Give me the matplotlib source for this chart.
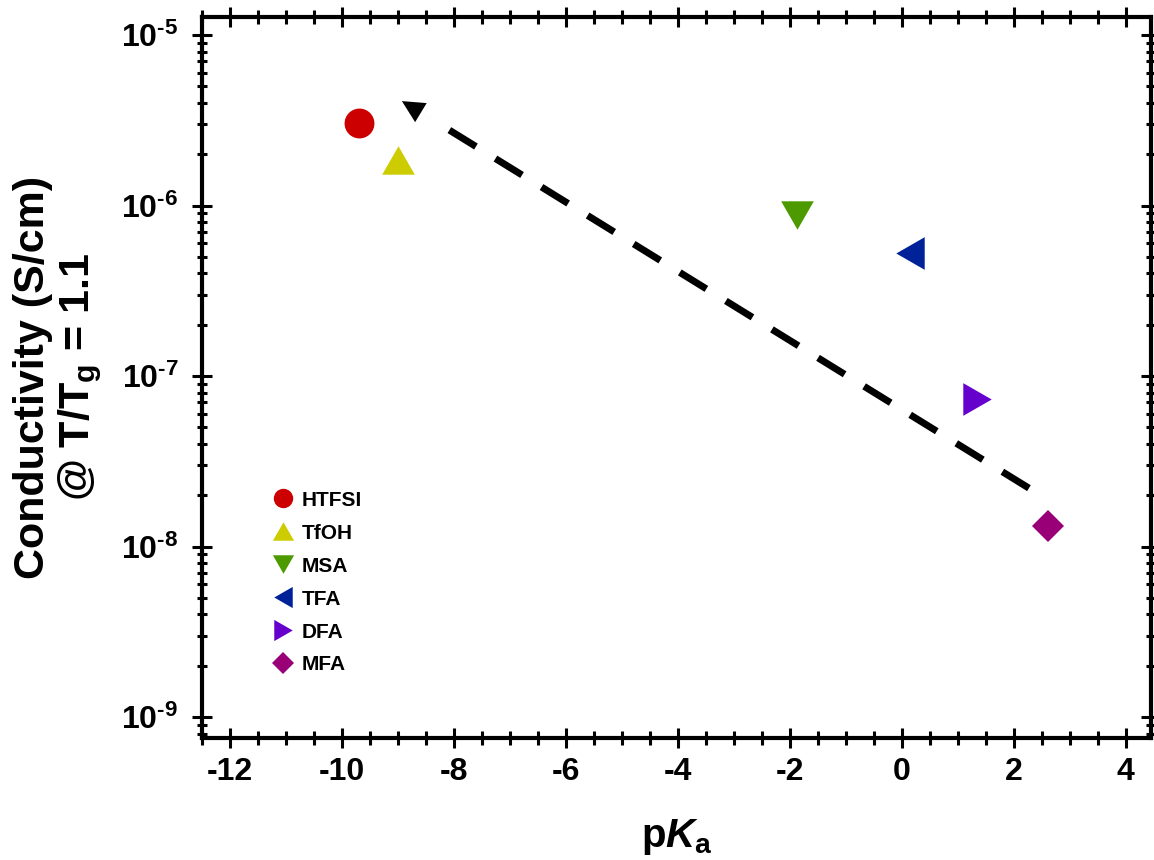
import matplotlib
matplotlib.use('Agg')
import matplotlib.pyplot as plt
from matplotlib.ticker import MultipleLocator, NullFormatter, LogLocator

plt.rcParams['font.family'] = ['Liberation Sans', 'DejaVu Sans']
plt.rcParams['font.weight'] = 'bold'
plt.rcParams['axes.unicode_minus'] = False
plt.rcParams['mathtext.fontset'] = 'custom'
plt.rcParams['mathtext.rm'] = 'Liberation Sans:bold'
plt.rcParams['mathtext.bf'] = 'Liberation Sans:bold'
plt.rcParams['mathtext.it'] = 'Liberation Sans:italic:bold'

# ---- data ----
acids = ['HTFSI', 'TfOH', 'MSA', 'TFA', 'DFA', 'MFA']
pka = [-9.69, -9.0, -1.88, 0.15, 1.34, 2.61]
conductivity = [3.03e-6, 1.86e-6, 8.8e-7, 5.28e-7, 7.3e-8, 1.32e-8]
colors = ['#CC0000', '#CCCC00', '#4C9900', '#002299', '#6600CC', '#990077']

# trend arrow: tail (near MFA) -> end of dashes -> arrow tip
arrow_x = [2.27, -8.43, -8.93]
arrow_y = [2.2e-8, 3.26e-6, 4.1e-6]

ytick_vals = [1e-9, 1e-8, 1e-7, 1e-6, 1e-5]
ytick_labels = [r'$\mathrm{10}^{\text{-9}}$', r'$\mathrm{10}^{\text{-8}}$',
                r'$\mathrm{10}^{\text{-7}}$', r'$\mathrm{10}^{\text{-6}}$',
                r'$\mathrm{10}^{\text{-5}}$']

# equilateral-ish triangle markers
TRI_UP = [(-1, -0.87), (1, -0.87), (0, 0.87)]
TRI_DOWN = [(-1, 0.87), (1, 0.87), (0, -0.87)]
TRI_LEFT = [(0.87, -1), (0.87, 1), (-0.87, 0)]
TRI_RIGHT = [(-0.87, -1), (-0.87, 1), (0.87, 0)]
markers = ['o', TRI_UP, TRI_DOWN, TRI_LEFT, TRI_RIGHT, 'D']
msizes = [21.5, 23.5, 23.5, 23.5, 23.5, 16.8]

fig = plt.figure(figsize=(11.54, 8.6), dpi=100)
fig.patch.set_facecolor('white')
ax = fig.add_axes([202 / 1154, 1 - 738 / 860, 949 / 1154, 721 / 860])

for name, x, y, c, m, s in zip(acids, pka, conductivity, colors, markers, msizes):
    ax.plot([x], [y], linestyle='none', marker=m, markersize=s,
            color=c, markeredgewidth=0, label=name, zorder=3)

# dashed trend line + arrow head
ax.plot(arrow_x[:2], arrow_y[:2], color='black', lw=5,
        linestyle=(0, (4.5, 3.3)), dash_capstyle='butt', zorder=2)
ax.annotate('', xy=(arrow_x[2], arrow_y[2]), xytext=(arrow_x[1], arrow_y[1]),
            arrowprops=dict(arrowstyle='-|>,head_length=0.8,head_width=0.4',
                            mutation_scale=20, facecolor='black', edgecolor='black',
                            lw=0.01, shrinkA=0, shrinkB=0), zorder=2)

ax.set_yscale('log')
ax.set_xlim(-12.5, 4.45)
ax.set_ylim(10 ** -9.123, 10 ** -4.894)

ax.xaxis.set_major_locator(MultipleLocator(2))
ax.xaxis.set_minor_locator(MultipleLocator(0.5))
ax.set_yticks(ytick_vals)
ax.set_yticklabels(ytick_labels)
ax.yaxis.set_minor_locator(LogLocator(base=10, subs=range(2, 10)))
ax.yaxis.set_minor_formatter(NullFormatter())

for sp in ax.spines.values():
    sp.set_linewidth(3)
ax.tick_params(which='both', direction='inout', top=True, right=True, width=2.2)
ax.tick_params(which='major', length=14, labelsize=23, pad=7)
ax.tick_params(axis='x', which='minor', length=9.5)
ax.tick_params(axis='y', which='minor', length=7)
ax.tick_params(axis='y', which='major', pad=10)
for lab in ax.get_xticklabels():
    lab.set_fontweight('bold')

ax.set_xlabel(r'p$\mathit{K}_\mathrm{a}$', fontsize=29, fontweight='bold')
ax.xaxis.set_label_coords(0.5, -0.11)
ax.set_ylabel('Conductivity (S/cm)\n' + r'@ T/T$_\mathrm{g}$ = 1.1',
              fontsize=31, fontweight='bold', linespacing=1.1)
ax.yaxis.set_label_coords(-0.103, 0.5)

leg = ax.legend(loc='upper left', bbox_to_anchor=(0.0744, 0.343), frameon=False,
                fontsize=15, markerscale=0.65, handlelength=1.0, handletextpad=0.41,
                labelspacing=0.67, borderpad=0, borderaxespad=0)
for t in leg.get_texts():
    t.set_fontweight('bold')

fig.savefig('out.png', dpi=100, facecolor='white')
